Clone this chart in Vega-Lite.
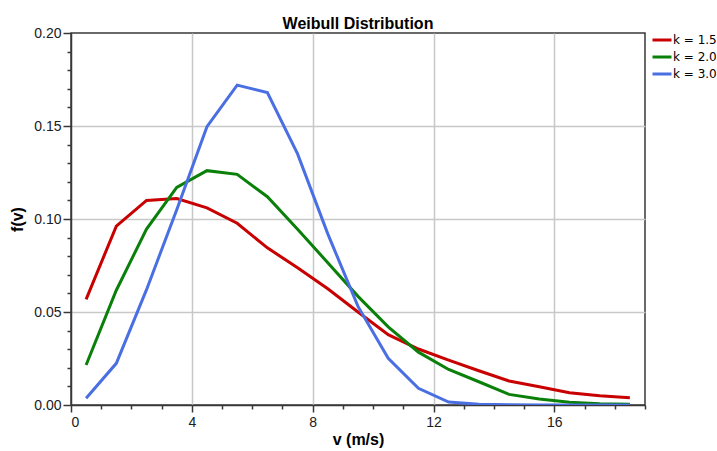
{
  "$schema": "https://vega.github.io/schema/vega-lite/v6.json",
  "width": 574,
  "height": 372,
  "autosize": {"type": "none"},
  "padding": {"left": 71, "top": 33, "right": 72, "bottom": 46},
  "background": "white",
  "title": {
    "text": "Weibull Distribution",
    "font": "Liberation Sans",
    "fontSize": 16,
    "fontWeight": "bold",
    "color": "#000000",
    "anchor": "middle",
    "offset": -6
  },
  "data": {
    "values": [
      {"v": 0.5, "f": 0.0568, "k": "k = 1.5"},
      {"v": 1.5, "f": 0.0962, "k": "k = 1.5"},
      {"v": 2.5, "f": 0.110, "k": "k = 1.5"},
      {"v": 3.5, "f": 0.111, "k": "k = 1.5"},
      {"v": 4.5, "f": 0.106, "k": "k = 1.5"},
      {"v": 5.5, "f": 0.0977, "k": "k = 1.5"},
      {"v": 6.5, "f": 0.0845, "k": "k = 1.5"},
      {"v": 7.5, "f": 0.0738, "k": "k = 1.5"},
      {"v": 8.5, "f": 0.0625, "k": "k = 1.5"},
      {"v": 9.5, "f": 0.0500, "k": "k = 1.5"},
      {"v": 10.5, "f": 0.0378, "k": "k = 1.5"},
      {"v": 11.5, "f": 0.0301, "k": "k = 1.5"},
      {"v": 12.5, "f": 0.0241, "k": "k = 1.5"},
      {"v": 13.5, "f": 0.0184, "k": "k = 1.5"},
      {"v": 14.5, "f": 0.0129, "k": "k = 1.5"},
      {"v": 15.5, "f": 0.0098, "k": "k = 1.5"},
      {"v": 16.5, "f": 0.0066, "k": "k = 1.5"},
      {"v": 17.5, "f": 0.0050, "k": "k = 1.5"},
      {"v": 18.5, "f": 0.0039, "k": "k = 1.5"},
      {"v": 0.5, "f": 0.0215, "k": "k = 2.0"},
      {"v": 1.5, "f": 0.0617, "k": "k = 2.0"},
      {"v": 2.5, "f": 0.0946, "k": "k = 2.0"},
      {"v": 3.5, "f": 0.117, "k": "k = 2.0"},
      {"v": 4.5, "f": 0.126, "k": "k = 2.0"},
      {"v": 5.5, "f": 0.124, "k": "k = 2.0"},
      {"v": 6.5, "f": 0.112, "k": "k = 2.0"},
      {"v": 7.5, "f": 0.0945, "k": "k = 2.0"},
      {"v": 8.5, "f": 0.0765, "k": "k = 2.0"},
      {"v": 9.5, "f": 0.0584, "k": "k = 2.0"},
      {"v": 10.5, "f": 0.0420, "k": "k = 2.0"},
      {"v": 11.5, "f": 0.0284, "k": "k = 2.0"},
      {"v": 12.5, "f": 0.0191, "k": "k = 2.0"},
      {"v": 13.5, "f": 0.0125, "k": "k = 2.0"},
      {"v": 14.5, "f": 0.0057, "k": "k = 2.0"},
      {"v": 15.5, "f": 0.0032, "k": "k = 2.0"},
      {"v": 16.5, "f": 0.0015, "k": "k = 2.0"},
      {"v": 17.5, "f": 0.0007, "k": "k = 2.0"},
      {"v": 18.5, "f": 0.0004, "k": "k = 2.0"},
      {"v": 0.5, "f": 0.0036, "k": "k = 3.0"},
      {"v": 1.5, "f": 0.0224, "k": "k = 3.0"},
      {"v": 2.5, "f": 0.062, "k": "k = 3.0"},
      {"v": 3.5, "f": 0.105, "k": "k = 3.0"},
      {"v": 4.5, "f": 0.1496, "k": "k = 3.0"},
      {"v": 5.5, "f": 0.172, "k": "k = 3.0"},
      {"v": 6.5, "f": 0.168, "k": "k = 3.0"},
      {"v": 7.5, "f": 0.135, "k": "k = 3.0"},
      {"v": 8.5, "f": 0.092, "k": "k = 3.0"},
      {"v": 9.5, "f": 0.053, "k": "k = 3.0"},
      {"v": 10.5, "f": 0.0251, "k": "k = 3.0"},
      {"v": 11.5, "f": 0.009, "k": "k = 3.0"},
      {"v": 12.5, "f": 0.0016, "k": "k = 3.0"},
      {"v": 13.5, "f": 0.0004, "k": "k = 3.0"},
      {"v": 14.5, "f": 0.0001, "k": "k = 3.0"},
      {"v": 15.5, "f": 0.0, "k": "k = 3.0"},
      {"v": 16.5, "f": 0.0, "k": "k = 3.0"},
      {"v": 17.5, "f": 0.0, "k": "k = 3.0"},
      {"v": 18.5, "f": 0.0, "k": "k = 3.0"}
    ]
  },
  "layer": [
    {
      "mark": {"type": "line", "strokeWidth": 3, "clip": true},
      "encoding": {
        "x": {
          "field": "v",
          "type": "quantitative",
          "title": "v (m/s)",
          "scale": {"domain": [0, 19], "nice": false, "zero": false},
          "axis": {
            "orient": "bottom",
            "values": [0, 4, 8, 12, 16],
            "tickSize": 7,
            "grid": true,
            "gridOpacity": {"condition": {"test": "datum.value > 0", "value": 1}, "value": 0},
            "labelPadding": 3,
            "titlePadding": 2
          }
        },
        "y": {
          "field": "f",
          "type": "quantitative",
          "title": "f(v)",
          "scale": {"domain": [0, 0.2], "nice": false},
          "axis": {
            "orient": "left",
            "values": [0, 0.05, 0.1, 0.15, 0.2],
            "format": ".2f",
            "tickSize": 8,
            "grid": true,
            "gridOpacity": {"condition": {"test": "datum.value > 0 && datum.value < 0.195", "value": 1}, "value": 0},
            "labelPadding": 2,
            "titlePadding": 8
          }
        },
        "color": {
          "field": "k",
          "type": "nominal",
          "scale": {
            "domain": ["k = 1.5", "k = 2.0", "k = 3.0"],
            "range": ["#c80000", "#0a800a", "#4a6fe3"]
          },
          "legend": {
            "title": null,
            "orient": "none",
            "legendX": 580,
            "legendY": -4,
            "symbolType": "stroke",
            "symbolSize": 361,
            "symbolStrokeWidth": 3,
            "labelOffset": 0,
            "rowPadding": -2,
            "labelFont": "DejaVu Sans",
            "labelFontSize": 12,
            "labelColor": "#000000"
          }
        }
      }
    },
    {
      "mark": {"type": "point", "opacity": 0},
      "encoding": {
        "x": {
          "field": "v",
          "type": "quantitative",
          "axis": {
            "orient": "bottom",
            "values": [1, 2, 3, 5, 6, 7, 9, 10, 11, 13, 14, 15, 17, 18, 19],
            "tickSize": 4,
            "labels": false,
            "domain": false,
            "grid": false,
            "title": null
          }
        },
        "y": {
          "field": "f",
          "type": "quantitative",
          "axis": {
            "orient": "left",
            "values": [0.01, 0.02, 0.03, 0.04, 0.06, 0.07, 0.08, 0.09, 0.11, 0.12, 0.13, 0.14, 0.16, 0.17, 0.18, 0.19],
            "tickSize": 4,
            "labels": false,
            "domain": false,
            "grid": false,
            "title": null
          }
        }
      }
    }
  ],
  "resolve": {"axis": {"x": "independent", "y": "independent"}},
  "config": {
    "view": {"stroke": "#383838", "strokeWidth": 1.5},
    "axis": {
      "labelFont": "Liberation Sans",
      "labelFontSize": 14,
      "labelColor": "#202020",
      "titleFont": "Liberation Sans",
      "titleFontSize": 16,
      "titleFontWeight": "bold",
      "titleColor": "#000000",
      "domainColor": "#383838",
      "domainWidth": 1.5,
      "tickColor": "#383838",
      "tickWidth": 1.5,
      "gridColor": "#c8c8c8",
      "gridWidth": 1.5
    }
  }
}
